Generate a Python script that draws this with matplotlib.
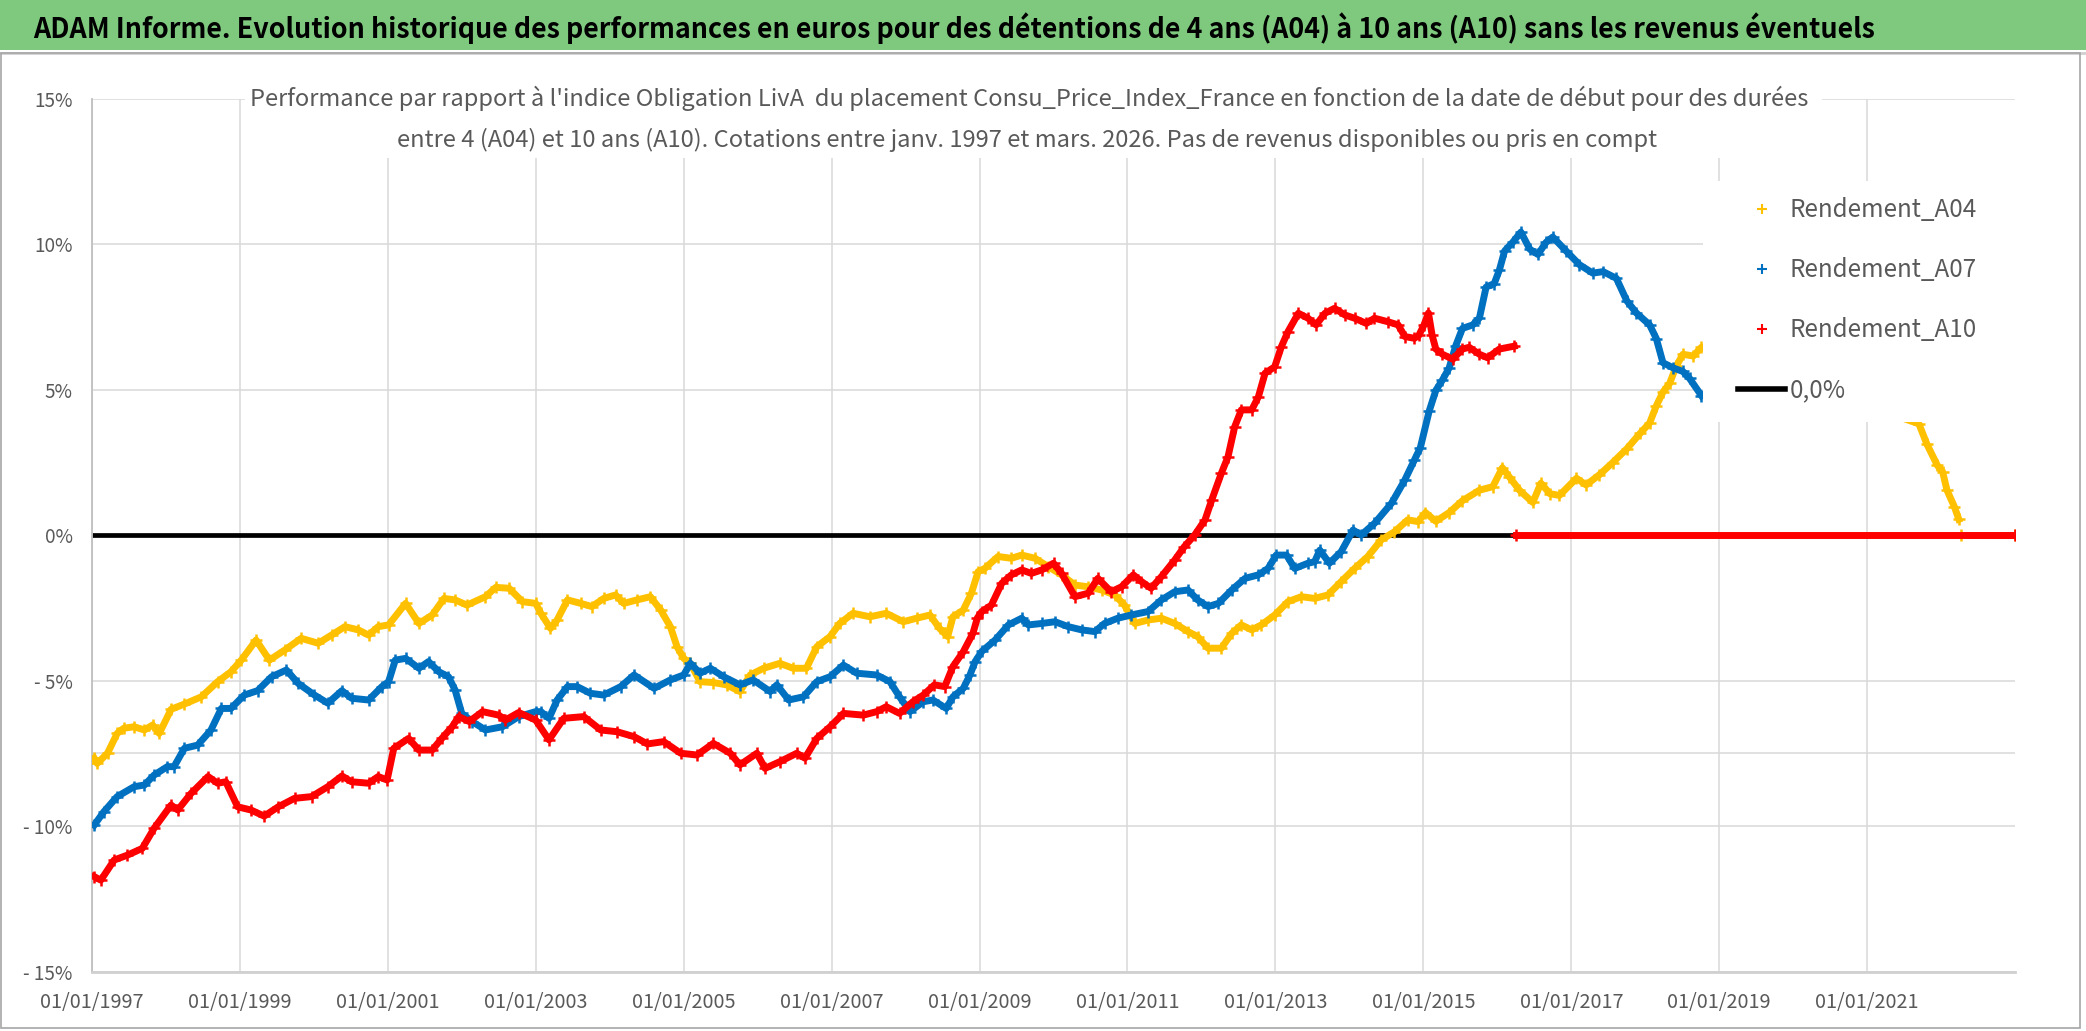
import numpy as np
import matplotlib
matplotlib.use("Agg")
import matplotlib.pyplot as plt
from matplotlib.lines import Line2D
from matplotlib.patches import Rectangle
from datetime import datetime

plt.rcParams['font.family'] = ['Noto Sans CJK SC', 'DejaVu Sans']

# ---------------- data (decimal years, % values) ----------------
a04_years = [1997.03, 1997.07, 1997.21, 1997.34, 1997.43, 1997.57, 1997.71, 1997.82, 1997.91, 1998.07,
             1998.25, 1998.48, 1998.70, 1998.88, 1999.02, 1999.22, 1999.40, 1999.61, 1999.83, 2000.06,
             2000.24, 2000.42, 2000.60, 2000.74, 2000.87, 2001.01, 2001.24, 2001.42, 2001.60, 2001.76,
             2001.91, 2002.07, 2002.32, 2002.46, 2002.64, 2002.82, 2003.00, 2003.07, 2003.20, 2003.29,
             2003.43, 2003.61, 2003.76, 2003.92, 2004.08, 2004.19, 2004.37, 2004.55, 2004.69, 2004.82,
             2004.91, 2005.00, 2005.09, 2005.22, 2005.40, 2005.58, 2005.76, 2005.90, 2006.08, 2006.30,
             2006.48, 2006.66, 2006.80, 2006.98, 2007.11, 2007.29, 2007.52, 2007.74, 2007.97, 2008.15,
             2008.33, 2008.46, 2008.57, 2008.64, 2008.78, 2008.89, 2008.98, 2009.07, 2009.25, 2009.43,
             2009.57, 2009.75, 2009.93, 2010.11, 2010.29, 2010.47, 2010.65, 2010.83, 2010.96, 2011.10,
             2011.28, 2011.46, 2011.64, 2011.82, 2011.95, 2012.09, 2012.27, 2012.41, 2012.54, 2012.68,
             2012.81, 2012.99, 2013.17, 2013.35, 2013.53, 2013.71, 2013.89, 2014.07, 2014.25, 2014.43,
             2014.61, 2014.79, 2014.93, 2015.03, 2015.17, 2015.35, 2015.53, 2015.76, 2015.94, 2016.07,
             2016.16, 2016.30, 2016.48, 2016.59, 2016.71, 2016.84, 2017.07, 2017.20, 2017.38, 2017.56,
             2017.75, 2017.93, 2018.06, 2018.15, 2018.24, 2018.33, 2018.42, 2018.51, 2018.65, 2018.76,
             2021.70, 2021.81, 2021.95, 2022.02, 2022.08, 2022.18, 2022.24]
a04_vals = [-7.67, -7.85, -7.50, -6.82, -6.64, -6.59, -6.70, -6.53, -6.82, -5.99,
            -5.81, -5.56, -5.04, -4.70, -4.30, -3.61, -4.30, -3.95, -3.55, -3.72,
            -3.44, -3.15, -3.26, -3.44, -3.15, -3.09, -2.35, -3.04, -2.75, -2.18,
            -2.23, -2.41, -2.12, -1.80, -1.83, -2.29, -2.35, -2.69, -3.21, -2.92,
            -2.23, -2.35, -2.46, -2.18, -2.06, -2.35, -2.23, -2.12, -2.58, -3.15,
            -3.84, -4.24, -4.41, -5.04, -5.07, -5.15, -5.38, -4.81, -4.58, -4.41,
            -4.58, -4.58, -3.84, -3.49, -3.04, -2.69, -2.81, -2.69, -2.98, -2.86,
            -2.75, -3.21, -3.49, -2.81, -2.58, -2.00, -1.26, -1.15, -0.74, -0.80,
            -0.69, -0.80, -1.09, -1.37, -1.72, -1.78, -1.89, -2.06, -2.41, -3.04,
            -2.92, -2.86, -3.04, -3.32, -3.49, -3.89, -3.89, -3.38, -3.09, -3.26,
            -3.09, -2.75, -2.29, -2.12, -2.18, -2.06, -1.60, -1.15, -0.74, -0.17,
            0.11, 0.52, 0.46, 0.77, 0.47, 0.77, 1.18, 1.54, 1.66, 2.31,
            2.01, 1.54, 1.12, 1.78, 1.42, 1.36, 1.95, 1.72, 2.07, 2.49,
            2.96, 3.49, 3.85, 4.44, 4.91, 5.21, 5.80, 6.21, 6.15, 6.45,
            3.82, 3.11, 2.39, 2.18, 1.54, 0.97, 0.54]
a04_zero_years = [2022.27, 2023.0]
a04_zero_vals = [0.0, 0.0]

a07_years = [1997.03, 1997.16, 1997.34, 1997.57, 1997.71, 1997.84, 1998.02, 1998.11, 1998.25, 1998.43,
             1998.61, 1998.75, 1998.88, 1999.06, 1999.24, 1999.43, 1999.63, 1999.79, 2000.01, 2000.19,
             2000.38, 2000.51, 2000.74, 2000.92, 2001.01, 2001.10, 2001.24, 2001.42, 2001.55, 2001.69,
             2001.82, 2001.91, 2002.00, 2002.14, 2002.32, 2002.55, 2002.77, 2003.00, 2003.07, 2003.18,
             2003.29, 2003.43, 2003.56, 2003.74, 2003.92, 2004.15, 2004.33, 2004.60, 2004.82, 2005.00,
             2005.09, 2005.22, 2005.36, 2005.54, 2005.76, 2005.94, 2006.17, 2006.26, 2006.42, 2006.62,
             2006.80, 2006.98, 2007.16, 2007.34, 2007.61, 2007.79, 2007.92, 2008.06, 2008.24, 2008.37,
             2008.55, 2008.64, 2008.78, 2008.87, 2008.94, 2009.03, 2009.21, 2009.39, 2009.57, 2009.66,
             2009.84, 2010.02, 2010.20, 2010.38, 2010.56, 2010.69, 2010.87, 2011.05, 2011.28, 2011.46,
             2011.64, 2011.82, 2011.95, 2012.09, 2012.23, 2012.41, 2012.59, 2012.77, 2012.90, 2013.01,
             2013.15, 2013.26, 2013.44, 2013.53, 2013.60, 2013.73, 2013.89, 2014.05, 2014.16, 2014.34,
             2014.57, 2014.75, 2014.88, 2014.96, 2015.08, 2015.17, 2015.26, 2015.35, 2015.44, 2015.53,
             2015.67, 2015.76, 2015.85, 2015.96, 2016.03, 2016.10, 2016.21, 2016.32, 2016.44, 2016.55,
             2016.66, 2016.75, 2016.93, 2017.11, 2017.29, 2017.43, 2017.61, 2017.75, 2017.88, 2018.06,
             2018.15, 2018.24, 2018.38, 2018.51, 2018.60, 2018.76]
a07_vals = [-9.97, -9.51, -8.99, -8.65, -8.59, -8.25, -7.96, -7.96, -7.33, -7.22,
            -6.70, -5.96, -5.96, -5.50, -5.35, -4.87, -4.64, -5.10, -5.50, -5.78,
            -5.35, -5.61, -5.67, -5.21, -5.04, -4.30, -4.24, -4.58, -4.35, -4.70,
            -4.87, -5.33, -6.13, -6.41, -6.70, -6.59, -6.24, -6.07, -6.07, -6.30,
            -5.67, -5.21, -5.21, -5.44, -5.50, -5.21, -4.81, -5.27, -4.98, -4.81,
            -4.41, -4.75, -4.58, -4.87, -5.15, -4.98, -5.38, -5.15, -5.67, -5.56,
            -5.04, -4.87, -4.47, -4.75, -4.81, -5.04, -5.56, -6.07, -5.73, -5.67,
            -5.96, -5.56, -5.27, -4.81, -4.35, -4.00, -3.61, -3.09, -2.86, -3.09,
            -3.04, -2.98, -3.15, -3.26, -3.32, -3.04, -2.86, -2.75, -2.63, -2.23,
            -1.95, -1.89, -2.23, -2.46, -2.35, -1.89, -1.49, -1.37, -1.15, -0.69,
            -0.69, -1.15, -0.97, -0.92, -0.52, -0.97, -0.57, 0.17, 0.00, 0.40,
            1.09, 1.89, 2.58, 3.00, 4.26, 4.97, 5.33, 5.74, 6.51, 7.10,
            7.22, 7.46, 8.52, 8.64, 9.11, 9.76, 10.06, 10.41, 9.82, 9.64,
            10.06, 10.24, 9.76, 9.29, 9.00, 9.05, 8.82, 8.05, 7.63, 7.22,
            6.75, 5.92, 5.74, 5.62, 5.38, 4.79]

a10_years = [1997.03, 1997.12, 1997.30, 1997.48, 1997.68, 1997.84, 1998.07, 1998.16, 1998.34, 1998.57,
             1998.70, 1998.81, 1998.97, 1999.15, 1999.33, 1999.52, 1999.74, 1999.97, 2000.19, 2000.38,
             2000.51, 2000.74, 2000.87, 2000.99, 2001.08, 2001.28, 2001.42, 2001.60, 2001.73, 2001.87,
             2001.96, 2002.10, 2002.28, 2002.50, 2002.59, 2002.77, 2003.00, 2003.18, 2003.38, 2003.65,
             2003.88, 2004.10, 2004.33, 2004.51, 2004.73, 2004.96, 2005.18, 2005.40, 2005.63, 2005.76,
             2005.99, 2006.10, 2006.30, 2006.53, 2006.64, 2006.80, 2006.98, 2007.16, 2007.43, 2007.61,
             2007.74, 2007.92, 2008.10, 2008.24, 2008.39, 2008.53, 2008.64, 2008.78, 2008.91, 2008.97,
             2009.03, 2009.16, 2009.30, 2009.43, 2009.57, 2009.70, 2009.84, 2010.00, 2010.11, 2010.29,
             2010.47, 2010.60, 2010.78, 2010.92, 2011.08, 2011.19, 2011.32, 2011.46, 2011.64, 2011.77,
             2011.91, 2012.05, 2012.14, 2012.27, 2012.36, 2012.45, 2012.54, 2012.68, 2012.77, 2012.86,
             2012.99, 2013.08, 2013.17, 2013.31, 2013.44, 2013.55, 2013.67, 2013.80, 2013.94, 2014.07,
             2014.23, 2014.34, 2014.52, 2014.66, 2014.75, 2014.88, 2014.94, 2015.01, 2015.07, 2015.12,
             2015.17, 2015.26, 2015.40, 2015.53, 2015.62, 2015.76, 2015.87, 2016.03, 2016.23]
a10_vals = [-11.74, -11.86, -11.17, -11.00, -10.77, -10.08, -9.28, -9.45, -8.88, -8.30,
            -8.53, -8.48, -9.34, -9.45, -9.66, -9.34, -9.05, -8.99, -8.65, -8.28,
            -8.48, -8.53, -8.30, -8.42, -7.33, -6.99, -7.39, -7.39, -6.99, -6.59,
            -6.24, -6.41, -6.07, -6.19, -6.36, -6.10, -6.36, -7.04, -6.30, -6.24,
            -6.70, -6.76, -6.93, -7.18, -7.10, -7.50, -7.56, -7.16, -7.50, -7.90,
            -7.50, -8.02, -7.79, -7.50, -7.67, -6.99, -6.59, -6.13, -6.19, -6.07,
            -5.90, -6.13, -5.73, -5.50, -5.15, -5.21, -4.52, -4.01, -3.38, -2.85,
            -2.63, -2.41, -1.66, -1.37, -1.20, -1.32, -1.20, -0.97, -1.32, -2.12,
            -2.00, -1.49, -1.95, -1.78, -1.37, -1.60, -1.83, -1.43, -0.86, -0.40,
            0.00, 0.52, 1.20, 2.12, 2.69, 3.72, 4.30, 4.30, 4.75, 5.56,
            5.78, 6.47, 6.99, 7.62, 7.45, 7.22, 7.62, 7.79, 7.56, 7.45,
            7.27, 7.45, 7.33, 7.22, 6.82, 6.76, 6.86, 7.22, 7.63, 6.86,
            6.39, 6.21, 6.04, 6.39, 6.45, 6.21, 6.09, 6.39, 6.49]
a10_zero_years = [2016.25, 2023.0]
a10_zero_vals = [0.0, 0.0]

ref_years = [1997.0, 2023.0]
ref_vals = [0.0, 0.0]

series_names = ['Rendement_A04', 'Rendement_A07', 'Rendement_A10']
ref_name = '0,0%'
x_tick_years = [1997, 1999, 2001, 2003, 2005, 2007, 2009, 2011, 2013, 2015, 2017, 2019, 2021]
x_tick_labels = ['01/01/%d' % y for y in x_tick_years]
y_ticks = [-15, -10, -5, 0, 5, 10, 15]
y_tick_labels = ['- 15%', '- 10%', '- 5%', '0%', '5%', '10%', '15%']

title = ("ADAM Informe. Evolution historique des performances en euros pour des "
         "détentions de 4 ans (A04) à 10 ans (A10) sans les revenus éventuels")
subtitle1 = ("Performance par rapport à l'indice Obligation LivA  du placement "
             "Consu_Price_Index_France en fonction de la date de début pour des durées")
subtitle2 = ("entre 4 (A04) et 10 ans (A10). Cotations entre janv. 1997 et mars. 2026. "
             "Pas de revenus disponibles ou pris en compt")

# ---------------- helpers ----------------
def to_date(y):
    yr = int(np.floor(y))
    d0 = datetime(yr, 1, 1)
    d1 = datetime(yr + 1, 1, 1)
    return d0 + (d1 - d0) * (y - yr)

def dates(lst):
    return [to_date(v) for v in lst]

W, H = 2086, 1031
def fx(px):
    return px / W
def fy(py):
    return 1 - py / H

C04, C07, C10 = '#FFC000', '#0070C0', '#FF0000'
GRID = '#D9D9D9'
TXT = '#595959'

fig = plt.figure(figsize=(W / 100, H / 100), dpi=100)
fig.patch.set_facecolor('white')
fig.canvas.draw()
renderer = fig.canvas.get_renderer()

def fit_size(s, target_px, weight='normal', base=20.0):
    t = fig.text(0, 0, s, fontsize=base, fontweight=weight)
    bb = t.get_window_extent(renderer)
    t.remove()
    return base * target_px / bb.width

def text_height(s, size, weight='normal'):
    t = fig.text(0, 0, s, fontsize=size, fontweight=weight)
    bb = t.get_window_extent(renderer)
    t.remove()
    return bb.height

fs_title = fit_size(title, 1841, 'bold')
fs_sub = fit_size(subtitle1, 1558)
fs_xt = fit_size('01/01/1997', 96) * 1.08
fs_yt = fit_size('15%', 35) * 1.1
fs_leg = fit_size('Rendement_A04', 187)

ax = fig.add_axes([fx(92), fy(971.5), (2015 - 92) / W, (971.5 - 98.5) / H])

# reference zero line
ax.plot(dates(ref_years), ref_vals, color='black', lw=3.4, zorder=2, solid_capstyle='butt')

style = dict(lw=5.0, marker='+', ms=9, mew=1.8, solid_joinstyle='round')
ax.plot(dates(a04_years), a04_vals, color=C04, zorder=3, **style)
ax.plot(dates(a04_zero_years), a04_zero_vals, color=C04, zorder=3, **style)
ax.plot(dates(a07_years), a07_vals, color=C07, zorder=4, **style)
ax.plot(dates(a10_years), a10_vals, color=C10, zorder=5, **style)
ax.plot(dates(a10_zero_years), a10_zero_vals, color=C10, zorder=5, **style)

ax.set_xlim(datetime(1997, 1, 1), datetime(2023, 1, 1))
ax.set_ylim(-15, 15)
ax.set_xticks([datetime(y, 1, 1) for y in x_tick_years])
ax.set_xticklabels(x_tick_labels)
ax.set_yticks(y_ticks)
ax.set_yticklabels(y_tick_labels)
ax.tick_params(axis='x', length=0, pad=15, labelsize=fs_xt, labelcolor=TXT)
ax.tick_params(axis='y', length=0, pad=14, labelsize=fs_yt, labelcolor=TXT)
ax.grid(True, color=GRID, lw=1.1)
ax.axhline(-7.5, color=GRID, lw=1.1, zorder=0.5)
ax.set_axisbelow(True)
for s in ['top', 'right']:
    ax.spines[s].set_visible(False)
ax.spines['left'].set_color('#BFBFBF')
ax.spines['left'].set_linewidth(1.3)
ax.spines['bottom'].set_color('#D0D0D0')
ax.spines['bottom'].set_linewidth(2.0)

# title banner
fig.add_artist(Rectangle((0, fy(50)), 1, 50 / H, transform=fig.transFigure,
                         facecolor='#7FC97F', edgecolor='none', zorder=3))
fig.add_artist(Line2D([0, 1], [fy(52.5), fy(52.5)], transform=fig.transFigure,
                      color='#D0D0D0', lw=2, zorder=3))
fig.text(fx(33), fy(38), title, fontsize=fs_title, fontweight='bold', color='black',
         ha='left', va='baseline', zorder=4)

# outer border
fig.add_artist(Rectangle((fx(1), fy(1028)), (2080 - 1) / W, (1028 - 53) / H,
                         transform=fig.transFigure, facecolor='none',
                         edgecolor='#A6A6A6', lw=1.2, zorder=3))

# subtitle with white background
fig.add_artist(Rectangle((fx(245), fy(158)), (1822 - 245) / W, (158 - 70) / H,
                         transform=fig.transFigure, facecolor='white',
                         edgecolor='none', zorder=3))
fig.text(fx(1029), fy(106), subtitle1, fontsize=fs_sub, color=TXT, ha='center',
         va='baseline', zorder=4)
fig.text(fx(1027), fy(147), subtitle2, fontsize=fs_sub, color=TXT, ha='center',
         va='baseline', zorder=4)

# legend box
fig.add_artist(Rectangle((fx(1703), fy(422)), (2018 - 1703) / W, (422 - 181) / H,
                         transform=fig.transFigure, facecolor='white',
                         edgecolor='none', zorder=3))
handles = [Line2D([], [], ls='none', marker='+', ms=7, mew=1.5, color=C04),
           Line2D([], [], ls='none', marker='+', ms=7, mew=1.5, color=C07),
           Line2D([], [], ls='none', marker='+', ms=7, mew=1.5, color=C10),
           Line2D([], [], color='black', lw=4)]
fs_px = fs_leg * 100 / 72
row_h = text_height('Rendement_A04', fs_leg)
spacing = max(0.0, (60 - row_h) / fs_px)
leg = fig.legend(handles, series_names + [ref_name], loc='center left',
                 bbox_to_anchor=(fx(1738), fy(300)), frameon=False, fontsize=fs_leg,
                 handlelength=47 / fs_px, handletextpad=5 / fs_px,
                 labelspacing=spacing, borderpad=0, borderaxespad=0)
for t in leg.get_texts():
    t.set_color(TXT)
leg.set_zorder(5)

fig.savefig('out.png', dpi=100, facecolor='white')
